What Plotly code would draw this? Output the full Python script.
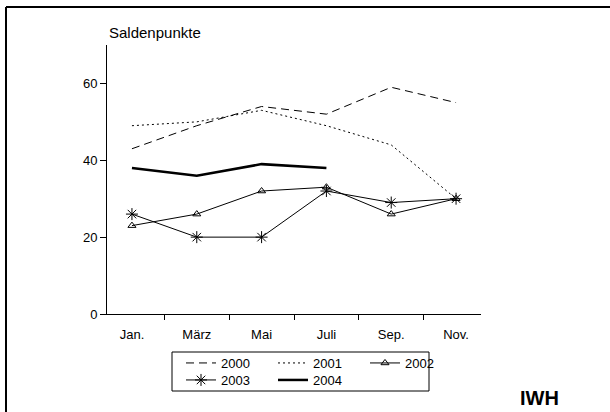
import plotly.graph_objects as go

months = ["Jan.", "März", "Mai", "Juli", "Sep.", "Nov."]

s2000 = [43, 49, 54, 52, 59, 55]
s2001 = [49, 50, 53, 49, 44, 30]
s2002 = [23, 26, 32, 33, 26, 30]
s2003 = [26, 20, 20, 32, 29, 30]
s2004 = [38, 36, 39, 38]

FONT = "Liberation Sans, Arial, sans-serif"

fig = go.Figure()
fig.add_trace(go.Scatter(x=months, y=s2000, name="2000", mode="lines",
                         line=dict(color="black", width=1, dash="8px,5px")))
fig.add_trace(go.Scatter(x=months, y=s2001, name="2001", mode="lines",
                         line=dict(color="black", width=1, dash="2px,3px")))
fig.add_trace(go.Scatter(x=months, y=s2002, name="2002", mode="lines+markers",
                         line=dict(color="black", width=1),
                         marker=dict(symbol="triangle-up-open", size=7,
                                     color="black", line=dict(width=1, color="black"))))
fig.add_trace(go.Scatter(x=months, y=s2003, name="2003", mode="lines+markers",
                         legend="legend2",
                         line=dict(color="black", width=1),
                         marker=dict(symbol="asterisk-open", size=10,
                                     color="black", line=dict(width=1, color="black"))))
fig.add_trace(go.Scatter(x=months[:len(s2004)], y=s2004, name="2004", mode="lines",
                         legend="legend2",
                         line=dict(color="black", width=2.5)))

FIG_W, FIG_H = 610, 412
# plot area in pixels
L, R, T, B = 107, 481, 45, 314
W, H = R - L, B - T


def px_x(p):
    return (p - L) / W


def px_y(p):
    return (B - p) / H


def cx(p):
    return p / FIG_W


def cy(p):
    return 1 - p / FIG_H


frame = dict(color="black", width=2)
shapes = [
    # page frame (left and top edges)
    dict(type="line", xref="paper", yref="paper",
         x0=px_x(6), x1=px_x(6), y0=px_y(7), y1=px_y(430), line=frame),
    dict(type="line", xref="paper", yref="paper",
         x0=px_x(6), x1=px_x(630), y0=px_y(7), y1=px_y(7), line=frame),
    # legend box
    dict(type="rect", xref="paper", yref="paper",
         x0=px_x(172), x1=px_x(429), y0=px_y(391), y1=px_y(352),
         line=dict(color="black", width=1)),
]

legend_common = dict(
    orientation="h", xanchor="left", yanchor="top",
    xref="container", yref="container",
    borderwidth=0, bgcolor="rgba(0,0,0,0)",
    font=dict(size=13, family=FONT),
    entrywidth=47, entrywidthmode="pixels",
    traceorder="normal",
)

fig.update_layout(
    width=FIG_W, height=FIG_H,
    margin=dict(l=L, r=FIG_W - R, t=T, b=FIG_H - B, pad=0, autoexpand=False),
    paper_bgcolor="white", plot_bgcolor="white",
    font=dict(family=FONT, size=13, color="black"),
    showlegend=True,
    legend=dict(x=cx(181), y=cy(348), **legend_common),
    legend2=dict(x=cx(181), y=cy(365), **legend_common),
    xaxis=dict(
        type="category", tickson="boundaries", ticks="outside", ticklen=5,
        tickcolor="black", showline=True, linecolor="black", linewidth=1,
        showgrid=False, zeroline=False, tickfont=dict(size=13),
        ticklabelstandoff=8,
    ),
    yaxis=dict(
        range=[0, 70], tickvals=[0, 20, 40, 60], ticks="outside", ticklen=6,
        tickcolor="black", showline=True, linecolor="black", linewidth=1,
        showgrid=False, zeroline=False, tickfont=dict(size=13),
    ),
    shapes=shapes,
    annotations=[
        dict(text="Saldenpunkte", xref="paper", yref="paper",
             x=0, y=px_y(43), xanchor="left", yanchor="bottom",
             showarrow=False, font=dict(size=15, family=FONT)),
        dict(text="<b>IWH</b>", xref="paper", yref="paper",
             x=px_x(539), y=px_y(398), xanchor="center", yanchor="middle",
             showarrow=False, font=dict(size=20, family=FONT)),
    ],
)

fig.write_html("out.html")
